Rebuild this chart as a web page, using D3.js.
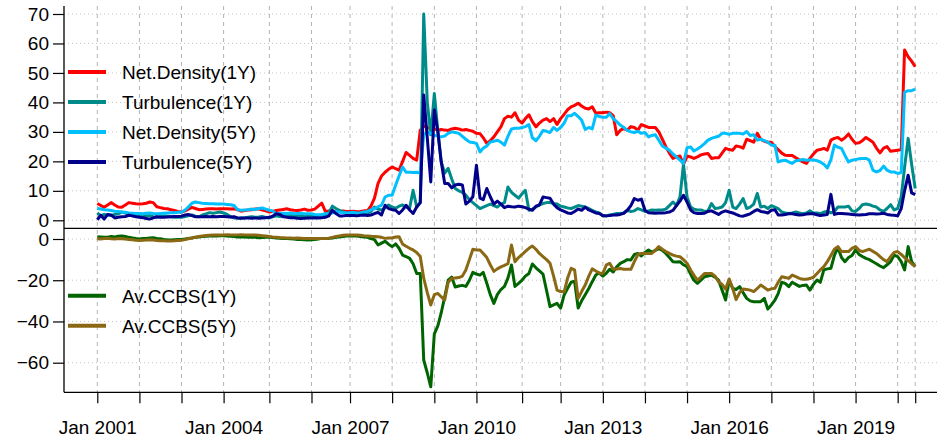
<!DOCTYPE html>
<html>
<head>
<meta charset="utf-8">
<script src="https://cdn.jsdelivr.net/npm/d3@7"></script>
<style>
  body { margin: 0; background: #fff; }
  svg { display: block; font-family: "Liberation Sans", Arial, Helvetica, sans-serif; }
</style>
</head>
<body>
<div id="chart"></div>
<script>
// monthly observations, Jan 2001 .. Jun 2020
const months = d3.timeMonth.range(new Date(2001, 0, 1), new Date(2020, 6, 1));

// ---------------- top panel series ----------------
const netDensity1Y = [
  5.7, 5.0, 4.4, 5.2, 6.0, 5.2, 4.5, 4.4, 5.2, 6.0, 5.8, 5.6,
  5.5, 5.6, 5.8, 6.2, 6.0, 4.6, 4.3, 4.0, 3.9, 3.6, 3.3, 3.0,
  2.8, 3.2, 3.8, 4.4, 4.0, 3.6, 3.7, 3.8, 3.9, 3.9, 3.8, 3.9,
  3.9, 3.9, 3.8, 3.9, 3.6, 3.1, 3.3, 3.5, 3.6, 3.8, 3.9, 3.5,
  3.2, 2.8, 3.0, 3.3, 3.5, 3.7, 3.9, 3.6, 3.4, 3.3, 3.5, 3.8,
  3.4, 3.5, 3.8, 4.8, 5.8, 3.0, 3.2, 3.1, 3.0, 3.0, 3.2, 3.0,
  3.0, 3.1, 2.9, 3.0, 3.2, 3.2, 4.8, 7.5, 12.5, 15.0, 16.3, 17.3,
  18.1, 17.5, 17.0, 20.0, 23.0, 22.0, 21.0, 20.4, 30.6, 32.0, 31.5, 31.0,
  31.0, 30.6, 30.8, 30.6, 30.5, 31.0, 31.2, 31.0, 30.6, 30.8, 30.5, 30.2,
  29.5, 29.4, 28.0, 26.1, 27.0, 28.3, 30.0, 31.7, 34.5, 35.3, 35.0, 36.5,
  34.0, 33.0, 34.5, 35.8, 33.5, 31.7, 33.0, 34.0, 34.5, 33.5, 34.5, 32.5,
  34.5, 36.0, 37.5, 38.5, 39.0, 39.7, 38.8, 38.0, 37.8, 38.5, 36.3, 36.5,
  36.5, 36.7, 36.5, 35.5, 29.0, 30.5, 31.2, 30.6, 31.8, 31.5, 30.6, 32.5,
  32.0, 31.5, 31.5, 31.5, 30.0, 27.5, 25.0, 22.8, 21.0, 21.5, 21.8, 19.0,
  21.8, 21.5, 21.0, 21.5, 22.2, 22.5, 22.7, 21.0, 21.2, 21.2, 22.8, 24.4,
  24.0, 23.8, 25.2, 25.0, 24.5, 27.5, 27.0, 26.5, 29.5, 27.5, 26.8, 26.5,
  26.5, 25.0, 24.0, 22.8, 22.1, 22.0, 22.0, 21.2, 20.5, 19.8, 19.3, 21.0,
  22.5, 23.8, 24.0, 24.4, 23.8, 27.2, 27.8, 28.1, 27.2, 28.0, 29.3, 27.5,
  26.1, 26.3, 27.0, 28.1, 27.3, 26.5, 24.5, 22.9, 24.5, 25.0, 23.4, 23.6,
  23.8, 24.0, 57.8, 55.5, 54.0, 52.1
];

const turbulence1Y = [
  2.5, 1.5, 2.0, 1.8, 1.6, 2.0, 2.2, 2.8, 2.5, 2.0, 1.5, 1.6,
  1.4, 1.2, 1.5, 1.6, 1.2, 1.0, 1.3, 1.5, 1.4, 1.2, 1.0, 1.1,
  1.0, 1.3, 1.5, 1.8, 1.4, 1.2, 1.8, 2.2, 2.6, 2.4, 2.6, 2.8,
  2.5, 2.0, 1.2, 0.8, 0.7, 0.9, 0.8, 1.0, 1.2, 1.0, 1.1, 1.3,
  1.0, 0.8, 1.2, 1.5, 1.3, 1.2, 1.5, 1.6, 1.4, 1.3, 1.5, 1.4,
  1.5, 1.3, 1.5, 1.6, 1.8, 2.0, 2.5, 4.8, 4.0, 3.4, 2.8, 2.5,
  2.4, 2.3, 2.2, 2.4, 2.5, 2.4, 3.0, 4.5, 3.8, 3.5, 4.2, 5.2,
  4.5, 4.1, 4.8, 5.2, 4.5, 4.2, 10.2, 4.5, 6.0, 70.0, 40.0, 29.0,
  43.0, 30.0, 20.0, 16.0, 17.6, 14.0, 10.8, 10.0, 9.5, 8.5, 7.0, 6.0,
  5.0, 4.0, 4.5, 5.0, 5.5, 5.0, 4.5, 5.5, 6.0, 11.3, 9.5, 8.5,
  7.5, 9.0, 10.2, 3.4, 3.8, 4.5, 5.2, 5.7, 6.0, 6.0, 5.7, 5.5,
  4.8, 4.5, 4.2, 4.0, 4.5, 5.0, 4.8, 4.5, 4.0, 3.4, 2.8, 2.5,
  1.5, 1.5, 1.8, 2.0, 2.3, 2.3, 2.5, 3.4, 3.0, 3.2, 4.0, 3.5,
  3.0, 3.2, 3.5, 3.4, 3.5, 3.5, 3.8, 5.0, 6.2, 5.0, 8.0, 19.0,
  7.9, 4.5, 3.8, 3.5, 3.5, 3.0, 3.2, 5.7, 4.0, 4.2, 4.5, 6.0,
  10.2, 4.5, 4.0, 5.5, 7.4, 4.0, 4.5, 5.5, 9.1, 4.5, 4.8, 4.0,
  5.0, 4.5, 4.0, 2.8, 2.5, 2.3, 2.5, 2.8, 2.5, 2.2, 2.5, 3.2,
  2.5, 2.5, 2.3, 2.8, 3.0, 2.5, 3.0, 4.5, 4.5, 4.5, 4.8, 3.2,
  3.0, 4.0, 5.3, 5.5, 5.3, 4.8, 4.5, 3.5, 3.0, 4.0, 5.3, 3.5,
  4.0, 8.0, 18.0, 27.8, 19.0, 10.8
];

const netDensity5Y = [
  4.0, 3.8, 3.6, 3.5, 3.3, 3.1, 3.0, 2.8, 2.7, 2.5, 2.4, 2.3,
  2.3, 2.2, 2.4, 2.5, 2.3, 2.2, 2.3, 2.4, 2.5, 2.6, 2.6, 2.7,
  2.7, 3.5, 4.5, 5.8, 6.2, 6.0, 5.8, 5.7, 5.6, 5.6, 5.5, 5.5,
  5.5, 5.4, 5.3, 5.0, 3.6, 3.4, 3.5, 3.6, 3.8, 3.6, 4.0, 4.2,
  3.8, 3.4, 3.2, 2.2, 2.3, 2.4, 2.3, 2.5, 2.2, 2.3, 2.4, 2.2,
  2.2, 2.2, 2.0, 1.9, 2.0, 2.2, 2.3, 2.5, 3.0, 2.7, 2.6, 2.5,
  2.6, 2.7, 2.5, 2.6, 2.8, 3.0, 3.5, 4.0, 4.6, 5.1, 7.9, 8.5,
  8.5, 12.0, 15.0, 18.1, 16.3, 16.3, 16.2, 16.3, 16.0, 29.0, 30.0, 29.5,
  28.9, 28.5, 28.3, 28.6, 29.5, 30.0, 29.8, 29.5, 28.5, 27.5, 26.6, 26.4,
  26.1, 23.2, 24.5, 25.2, 26.6, 26.8, 27.2, 26.5, 25.5, 28.5, 31.0, 31.2,
  31.2, 31.5, 31.8, 32.5, 28.0, 27.0, 28.5, 30.5, 30.2, 29.8, 31.5, 30.5,
  31.5, 33.0, 35.5, 35.5, 36.3, 35.2, 34.0, 30.8, 31.5, 31.0, 35.7, 35.2,
  35.0, 35.0, 36.2, 34.5, 33.5, 32.3, 31.5, 30.5, 30.0, 29.8, 30.2, 29.5,
  29.8, 28.3, 28.8, 29.0, 27.2, 25.2, 24.5, 23.8, 22.5, 21.5, 20.4, 19.3,
  24.6, 24.9, 23.5, 24.2, 25.0, 26.0, 27.2, 27.8, 28.2, 28.5, 29.5, 29.5,
  29.2, 29.5, 29.5, 29.5, 29.3, 30.1, 28.8, 29.0, 27.2, 27.5, 27.0, 26.5,
  25.5, 25.5, 19.8, 20.2, 20.4, 19.8, 19.3, 20.2, 20.4, 20.6, 20.4, 20.5,
  20.5, 20.2, 19.8, 19.0, 17.8, 20.5, 25.5, 24.8, 24.4, 22.0, 19.8, 20.4,
  20.6, 20.9, 21.0, 21.0, 20.4, 17.0, 16.4, 16.9, 18.4, 17.0, 16.4, 16.4,
  15.9, 16.2, 43.5, 44.0, 44.0, 44.5
];

const turbulence5Y = [
  0.2, 1.7, 0.4, 2.0, 1.8, 0.8, 1.0, 1.2, 1.3, 1.7, 1.5, 1.2,
  1.0, 0.9, 0.6, 0.4, 0.8, 1.2, 1.0, 1.0, 1.1, 1.2, 1.3, 1.3,
  1.4, 1.8, 2.0, 1.6, 1.2, 1.2, 1.2, 1.3, 1.2, 1.3, 1.2, 1.3,
  1.3, 1.2, 1.1, 1.2, 0.8, 0.7, 0.8, 0.8, 0.7, 0.8, 0.7, 0.8,
  0.9, 1.0, 1.4, 2.2, 2.0, 1.3, 1.0, 0.9, 0.9, 0.7, 0.6, 0.7,
  0.8, 0.8, 0.9, 0.8, 0.9, 1.0, 1.5, 3.4, 2.3, 1.5, 1.5, 1.6,
  1.6, 1.6, 1.5, 1.7, 1.8, 1.6, 1.8, 2.3, 2.7, 1.8, 5.1, 4.0,
  3.6, 3.4, 2.3, 3.5, 5.1, 3.5, 2.3, 4.5, 6.0, 42.5, 28.0, 13.0,
  37.4, 30.0, 20.0, 12.5, 12.5, 11.0, 12.0, 12.2, 12.0, 5.5, 6.5, 8.0,
  18.7, 7.5, 7.0, 10.8, 8.0, 5.5, 6.5, 5.5, 4.3, 4.8, 4.6, 4.5,
  4.8, 4.6, 4.3, 3.8, 3.4, 4.8, 5.2, 7.9, 7.7, 7.5, 5.5, 4.3,
  3.5, 3.0, 2.5, 2.3, 3.0, 3.8, 3.4, 4.5, 3.5, 3.0, 2.5, 2.3,
  1.6, 1.5, 1.6, 1.8, 1.8, 2.0, 2.4, 3.4, 5.0, 7.4, 6.8, 7.2,
  3.4, 2.6, 2.5, 2.4, 2.5, 2.5, 2.6, 2.8, 3.4, 5.0, 6.5, 8.5,
  6.2, 3.5, 2.6, 2.3, 2.3, 2.4, 3.0, 3.2, 2.6, 2.0, 2.8, 3.2,
  2.8, 2.5, 2.0, 1.5, 1.4, 1.8, 2.2, 3.0, 3.6, 3.0, 2.8, 2.5,
  3.4, 3.6, 1.8, 1.8, 2.0, 2.2, 2.2, 2.0, 1.8, 1.9, 2.1, 2.2,
  2.2, 1.9, 1.6, 1.8, 2.0, 8.8, 2.0, 2.3, 2.3, 2.2, 2.1, 2.0,
  1.9, 1.8, 1.9, 2.0, 2.2, 2.2, 2.1, 2.2, 2.4, 2.0, 1.8, 1.7,
  1.5, 4.0, 10.0, 15.3, 9.3, 8.7
];

// ---------------- bottom panel series ----------------
const avCCBS1Y = [
  1.1, 1.0, 0.8, 0.9, 1.2, 1.0, 1.3, 1.5, 1.2, 0.8, 0.5, 0.2,
  0.0, 0.2, 0.3, 0.5, 0.6, 0.3, 0.1, -0.2, -0.4, -0.5, -0.4, -0.3,
  -0.2, 0.0, 0.3, 0.5, 0.8, 1.0, 1.2, 1.3, 1.4, 1.5, 1.5, 1.6,
  1.6, 1.5, 1.3, 1.2, 1.0, 1.1, 1.0, 0.8, 0.9, 0.8, 0.6, 0.7,
  0.8, 0.9, 0.7, 0.5, 0.4, 0.3, 0.2, 0.1, 0.0, -0.2, -0.3, -0.4,
  -0.5, -0.4, -0.3, 0.0, 0.3, 0.2, 0.3, 0.5, 0.8, 1.0, 1.2, 1.4,
  1.5, 1.6, 1.4, 1.2, 1.0, 0.8, 0.2, -0.3, -2.9, -2.0, -1.1, -2.5,
  -3.7, -2.4, -4.5, -7.8, -8.5, -9.4, -12.0, -16.7, -16.7, -58.7, -65.0, -71.7,
  -46.0, -42.0, -36.0, -28.0, -20.0, -18.5, -23.3, -22.8, -22.5, -23.0, -20.0, -16.2,
  -17.0, -17.5, -16.2, -21.5, -27.0, -31.2, -27.0, -24.5, -23.0, -19.0, -12.6, -23.0,
  -21.5, -19.9, -18.0, -16.7, -12.1, -14.0, -15.5, -17.0, -25.0, -32.8, -32.0, -31.2,
  -33.5, -27.0, -24.0, -21.0, -20.5, -33.5, -30.0, -27.0, -24.0, -20.7, -17.5, -16.5,
  -18.0, -16.5, -14.7, -16.0, -13.5, -11.8, -11.0, -10.0, -10.2, -7.5, -7.0, -8.2,
  -6.5, -5.3, -6.5, -5.5, -4.7, -5.5, -7.0, -9.0, -11.0, -11.2, -11.0, -12.5,
  -13.4, -17.0, -20.0, -21.5, -20.0, -18.3, -18.0, -17.5, -18.5, -20.0, -24.8, -29.6,
  -19.9, -24.0, -24.5, -23.1, -26.0, -28.8, -30.0, -30.4, -30.4, -30.4, -28.8, -34.0,
  -32.0, -29.6, -26.5, -21.0, -21.5, -23.1, -21.0, -22.0, -23.0, -22.5, -22.3, -24.8,
  -22.0, -19.9, -21.0, -15.0, -14.5, -14.2, -8.0, -4.0, -9.0, -11.0, -9.0, -8.0,
  -5.3, -7.5, -8.5, -9.4, -10.0, -11.0, -12.0, -13.1, -13.9, -12.5, -11.0, -7.8,
  -8.6, -11.0, -15.0, -3.7, -11.0, -13.4
];

const avCCBS5Y = [
  0.1, 0.0, 0.2, 0.3, 0.1, 0.0, 0.2, 0.1, 0.0, -0.2, -0.4, -0.6,
  -0.7, -0.6, -0.5, -0.4, -0.5, -0.7, -0.8, -0.9, -1.0, -1.0, -0.9, -0.7,
  -0.6, -0.3, 0.1, 0.5, 0.8, 1.2, 1.5, 1.7, 1.8, 1.9, 2.0, 2.0,
  2.0, 2.1, 2.0, 1.9, 2.0, 2.1, 2.0, 1.9, 2.0, 2.0, 1.8, 1.6,
  1.4, 1.2, 1.0, 0.9, 0.7, 0.6, 0.5, 0.5, 0.4, 0.5, 0.4, 0.3,
  0.3, 0.2, 0.3, 0.3, 0.2, 0.3, 0.4, 0.8, 1.2, 1.5, 1.8, 2.0,
  2.0, 2.0, 1.9, 1.8, 1.6, 1.5, 1.3, 1.2, 1.1, 0.8, 0.3, 0.5,
  0.5, 1.0, 1.1, -2.5, -3.5, -4.5, -5.3, -6.5, -8.5, -19.0, -26.0, -32.0,
  -27.0, -26.4, -28.0, -29.6, -21.0, -19.1, -18.9, -18.7, -18.0, -15.0, -10.0, -5.0,
  -5.3, -5.3, -7.0, -9.0, -12.5, -15.7, -14.5, -13.5, -12.8, -12.0, -2.9, -11.0,
  -9.0, -7.5, -6.0, -4.5, -3.4, -5.0, -7.0, -8.5, -10.0, -11.8, -18.0, -24.8,
  -25.5, -25.6, -19.0, -14.2, -15.0, -28.8, -25.5, -22.3, -18.0, -14.5, -15.5, -16.5,
  -16.7, -12.5, -11.8, -14.7, -14.5, -14.3, -14.7, -14.7, -14.7, -11.0, -7.5, -7.0,
  -7.0, -7.0, -7.0, -5.5, -3.7, -5.0, -6.1, -7.0, -7.8, -8.3, -8.6, -10.0,
  -11.8, -15.0, -17.5, -19.9, -18.5, -16.7, -16.7, -16.7, -18.0, -20.7, -22.0, -24.3,
  -19.4, -24.0, -29.4, -26.0, -24.3, -24.5, -24.8, -25.5, -24.0, -22.3, -23.5, -24.8,
  -24.2, -23.9, -21.0, -18.3, -18.7, -19.1, -17.5, -18.3, -19.1, -19.5, -19.5, -19.2,
  -18.5, -16.7, -15.0, -13.4, -11.0, -8.0, -5.0, -3.7, -6.1, -6.1, -6.1, -4.5,
  -3.7, -5.5, -6.1, -5.5, -5.0, -6.0, -7.0, -8.5, -10.0, -11.0, -8.6, -6.5,
  -6.1, -7.5, -9.0, -10.5, -12.0, -13.4
];

// axis ticks
const topTicks = [0, 10, 20, 30, 40, 50, 60, 70];
const bottomTicks = [0, -20, -40, -60];
const xTickDates = [
  "2001-01", "2002-01", "2003-01", "2004-01", "2005-02", "2006-02", "2007-01",
  "2008-01", "2009-01", "2010-01", "2011-02", "2012-01", "2013-01", "2014-01",
  "2015-01", "2016-01", "2017-01", "2018-01", "2019-01", "2020-01", "2020-06"
];
const xLabelYears = [2001, 2004, 2007, 2010, 2013, 2016, 2019];

const topSeries = [
  { name: "Net.Density(1Y)", values: netDensity1Y, color: "#FF0000" },
  { name: "Turbulence(1Y)", values: turbulence1Y, color: "#008B8B" },
  { name: "Net.Density(5Y)", values: netDensity5Y, color: "#00BFFF" },
  { name: "Turbulence(5Y)", values: turbulence5Y, color: "#00008B" }
];
const bottomSeries = [
  { name: "Av.CCBS(1Y)", values: avCCBS1Y, color: "#006400" },
  { name: "Av.CCBS(5Y)", values: avCCBS5Y, color: "#8B6914" }
];

// ---------------- layout ----------------
const width = 937;
const height = 442;
const left = 64;
const right = 950;
const panelTop = 6;
const separator = 228.3;
const bottom = 392.3;

const parseMonth = d3.timeParse("%Y-%m");

const x = d3.scaleTime()
  .domain([months[0], months[months.length - 1]])
  .range([97.3, 915.2]);

const yTop = d3.scaleLinear().domain([0, 70]).range([220.3, 14]);
const yBottom = d3.scaleLinear().domain([0, -60]).range([239, 362.7]);

const svg = d3.select("#chart")
  .append("svg")
  .attr("width", width)
  .attr("height", height);

// ---------------- grid ----------------
const grid = svg.append("g");

grid.selectAll("line.vgrid")
  .data(xTickDates.map(parseMonth))
  .join("line")
  .attr("class", "vgrid")
  .attr("x1", d => x(d)).attr("x2", d => x(d))
  .attr("y1", panelTop).attr("y2", bottom)
  .attr("stroke", "#b5b5b5")
  .attr("stroke-width", 1)
  .attr("stroke-dasharray", "4,4");

grid.selectAll("line.hgrid-top")
  .data(topTicks)
  .join("line")
  .attr("class", "hgrid-top")
  .attr("x1", left).attr("x2", right)
  .attr("y1", d => yTop(d)).attr("y2", d => yTop(d))
  .attr("stroke", "#c4c4c4")
  .attr("stroke-width", 1)
  .attr("stroke-dasharray", "1,3");

grid.selectAll("line.hgrid-bottom")
  .data(bottomTicks)
  .join("line")
  .attr("class", "hgrid-bottom")
  .attr("x1", left).attr("x2", right)
  .attr("y1", d => yBottom(d)).attr("y2", d => yBottom(d))
  .attr("stroke", "#c4c4c4")
  .attr("stroke-width", 1)
  .attr("stroke-dasharray", "1,3");

// ---------------- lines ----------------
const lineTop = d3.line()
  .x((d, i) => x(months[i]))
  .y(d => yTop(d))
  .curve(d3.curveLinear);

const lineBottom = d3.line()
  .x((d, i) => x(months[i]))
  .y(d => yBottom(d));

svg.append("g")
  .selectAll("path")
  .data(topSeries)
  .join("path")
  .attr("d", d => lineTop(d.values))
  .attr("fill", "none")
  .attr("stroke", d => d.color)
  .attr("stroke-width", 3)
  .attr("stroke-linejoin", "round");

svg.append("g")
  .selectAll("path")
  .data(bottomSeries)
  .join("path")
  .attr("d", d => lineBottom(d.values))
  .attr("fill", "none")
  .attr("stroke", d => d.color)
  .attr("stroke-width", 3)
  .attr("stroke-linejoin", "round");

// ---------------- frame ----------------
const frame = svg.append("g").attr("stroke", "#000").attr("stroke-width", 1.3);
frame.append("line").attr("x1", left).attr("x2", left).attr("y1", panelTop).attr("y2", bottom);
frame.append("line").attr("x1", left).attr("x2", right).attr("y1", separator).attr("y2", separator);
frame.append("line").attr("x1", left).attr("x2", right).attr("y1", bottom).attr("y2", bottom);

// ---------------- axes ----------------
function styleAxis(g) {
  g.select(".domain").remove();
  g.selectAll(".tick line").attr("stroke", "#000").attr("stroke-width", 1.2);
  g.selectAll(".tick text")
    .attr("fill", "#000")
    .attr("font-size", "19px")
    .attr("font-family", "Liberation Sans, Arial, Helvetica, sans-serif");
}

svg.append("g")
  .attr("transform", `translate(${left},0)`)
  .call(d3.axisLeft(yTop).tickValues(topTicks).tickSize(11).tickPadding(4).tickFormat(d3.format("d")))
  .call(styleAxis);

svg.append("g")
  .attr("transform", `translate(${left},0)`)
  .call(d3.axisLeft(yBottom).tickValues(bottomTicks).tickSize(11).tickPadding(4)
    .tickFormat(d => d < 0 ? "\u2212" + Math.abs(d) : d))
  .call(styleAxis);

svg.append("g")
  .attr("transform", `translate(0,${bottom})`)
  .call(d3.axisBottom(x)
    .tickValues(xTickDates.map(parseMonth))
    .tickSize(11)
    .tickPadding(17)
    .tickFormat(d => (d.getMonth() === 0 && xLabelYears.includes(d.getFullYear()))
      ? "Jan " + d.getFullYear() : ""))
  .call(styleAxis);

// ---------------- legends ----------------
function legend(container, series, y0) {
  const rowSpacing = 30;
  const rows = container.selectAll("g")
    .data(series)
    .join("g")
    .attr("transform", (d, i) => `translate(68, ${y0 + i * rowSpacing})`);

  rows.append("line")
    .attr("x1", 0).attr("x2", 38)
    .attr("y1", 0).attr("y2", 0)
    .attr("stroke", d => d.color)
    .attr("stroke-width", 4);

  rows.append("text")
    .attr("x", 54)
    .attr("y", 7)
    .attr("font-size", "19px")
    .attr("fill", "#000")
    .text(d => d.name);
}

svg.append("g").call(legend, topSeries, 72);
svg.append("g").call(legend, bottomSeries, 295.7);
</script>
</body>
</html>
